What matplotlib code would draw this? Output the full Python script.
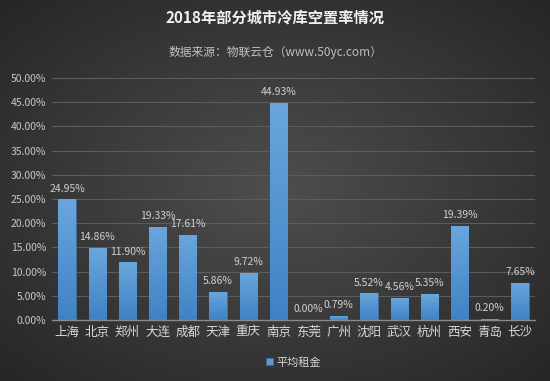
import numpy as np
import matplotlib
matplotlib.use("Agg")
import matplotlib.pyplot as plt
from matplotlib.colors import LinearSegmentedColormap

plt.rcParams['font.family'] = ['Noto Sans CJK SC', 'DejaVu Sans']

cities = ['上海', '北京', '郑州', '大连', '成都', '天津', '重庆', '南京', '东莞',
          '广州', '沈阳', '武汉', '杭州', '西安', '青岛', '长沙']
rates = [24.95, 14.86, 11.90, 19.33, 17.61, 5.86, 9.72, 44.93, 0.00,
         0.79, 5.52, 4.56, 5.35, 19.39, 0.20, 7.65]
yticks = np.arange(0, 50.01, 5)

fig = plt.figure(figsize=(5.5, 3.81), dpi=100)

# radial background
bg = fig.add_axes([0, 0, 1, 1], zorder=-10)
yy, xx = np.mgrid[-1:1:381j, -1:1:550j]
r = np.sqrt(xx**2 + yy**2) / np.sqrt(2)
bg_cmap = LinearSegmentedColormap.from_list('bg', ['#4e4e4e', '#3a3a3a', '#262626'])
bg.imshow(r, cmap=bg_cmap, aspect='auto', extent=[0, 1, 0, 1])
bg.axis('off')

ax = fig.add_axes([0.0945, 0.16, 0.8785, 0.635])
ax.patch.set_alpha(0)
x = np.arange(len(cities))
bars = ax.bar(x, rates, width=0.57, color='#5b9bd5', edgecolor='#41719c', linewidth=0.6, zorder=3)

# vertical gradient inside bars
grad = np.linspace(1, 0, 100).reshape(-1, 1)
bar_cmap = LinearSegmentedColormap.from_list('bar', ['#3f82c4', '#6aa6dd'])
for b in bars:
    h = b.get_height()
    if h <= 0:
        continue
    im = ax.imshow(grad, cmap=bar_cmap, aspect='auto', zorder=3.5,
                   extent=[b.get_x(), b.get_x() + b.get_width(), 0, h])
    im.set_clip_path(b)

for xi, v in zip(x, rates):
    ax.text(xi, v + 1.2, f'{v:.2f}%', ha='center', va='bottom', fontsize=7.5, color='#d0d0d0')

ax.set_xlim(-0.5, len(cities) - 0.5)
ax.set_ylim(0, 50)
ax.set_yticks(yticks)
ax.set_yticklabels([f'{t:.2f}%' for t in yticks], fontsize=7.5, color='#c8c8c8')
ax.set_xticks(x)
ax.set_xticklabels(cities, fontsize=9, color='#d9d9d9')
ax.tick_params(length=0, pad=4)
ax.grid(axis='y', color='#5c5c5c', linewidth=0.8, zorder=0)
for s in ['top', 'right', 'left']:
    ax.spines[s].set_visible(False)
ax.spines['bottom'].set_color('#8a8a8a')
ax.spines['bottom'].set_linewidth(1.0)
ax.spines['bottom'].set_zorder(4)

fig.text(0.5, 0.955, '2018年部分城市冷库空置率情况', ha='center', va='center',
         fontsize=11, fontweight='bold', color='#f0f0f0')
fig.text(0.5, 0.862, '数据来源：物联云仓（www.50yc.com）', ha='center', va='center',
         fontsize=8.5, color='#bfbfbf')

leg = ax.legend([bars[0]], ['平均租金'], loc='center', bbox_to_anchor=(0.5, -0.175),
                frameon=False, fontsize=8, handlelength=0.6, handleheight=0.6,
                handletextpad=0.3, labelcolor='#d9d9d9')

fig.savefig('out.png', dpi=100)
